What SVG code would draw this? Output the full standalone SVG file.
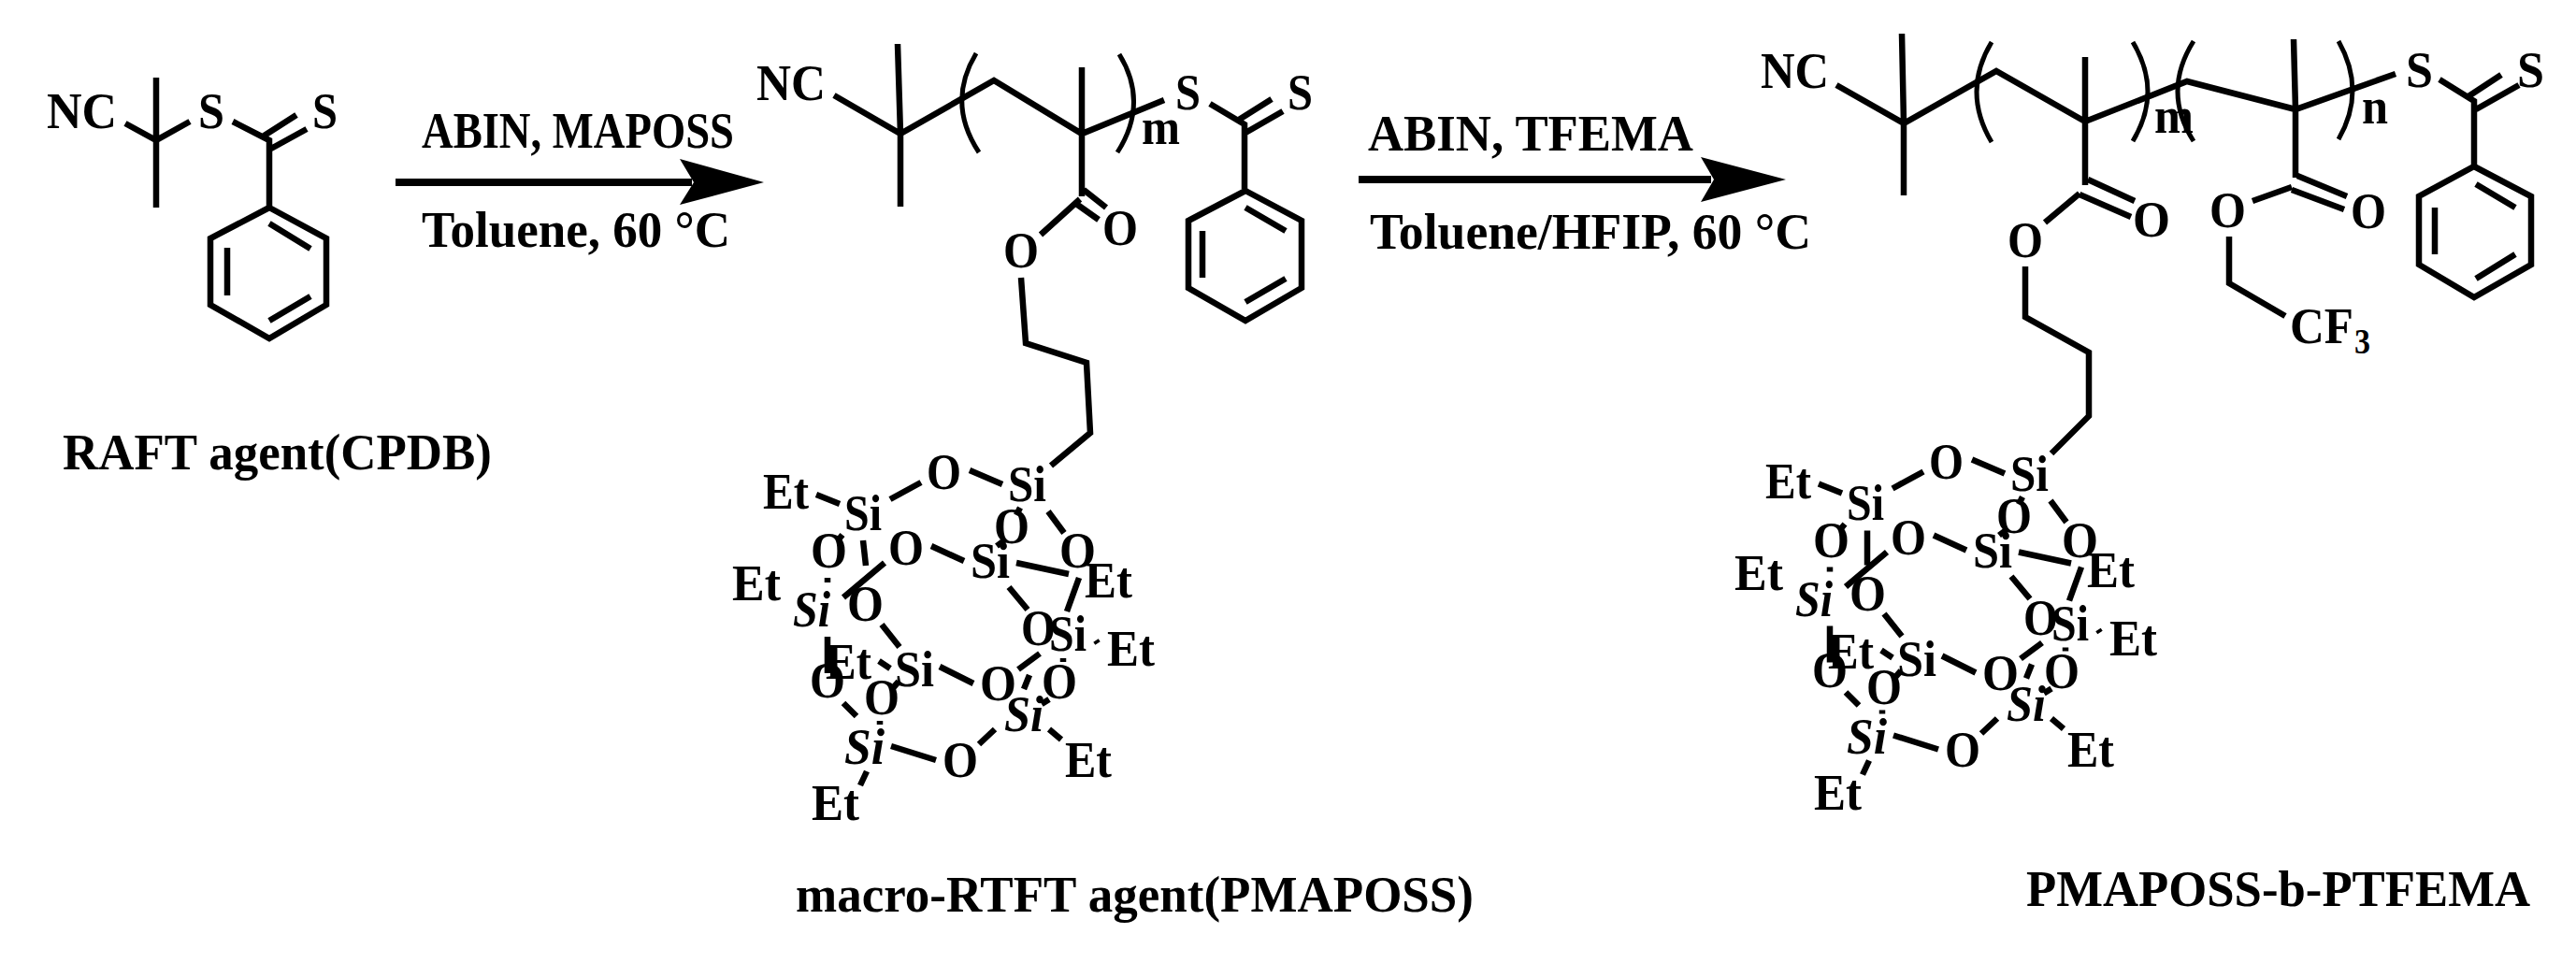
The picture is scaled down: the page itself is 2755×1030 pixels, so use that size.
<svg xmlns="http://www.w3.org/2000/svg" width="2755" height="1030" viewBox="0 0 2755 1030">
<style>
text{font-family:"Liberation Serif","Times New Roman",serif;font-weight:700;font-size:55px;fill:#000}
.i{font-style:italic}
.s{font-size:38px}
.b{fill:none;stroke:#000;stroke-width:6.5;stroke-linejoin:miter;stroke-linecap:butt}
.p{fill:none;stroke:#000;stroke-width:5}
.r{fill:none;stroke:#000;stroke-width:8}
.h{fill:#000;stroke:none}
</style>
<rect width="2755" height="1030" fill="#fff"/>
<g id="connectors">
<g id="bonds-raft">
<path class="b" d="M167 83V222M134 132L167 150L203 130M249 130L288 150V220M281 146L317 123M288 160L328 138"/>
<path class="b" d="M288 222L349 255V326L288 362L225 326V255ZM288 239L332 266M243 265V316M288 343L332 317"/>
</g>
<g id="bonds-macro">
<path class="b" d="M960 47L963 143V221M892 102L963 143L1063 86L1157 143L1245 107M1157 72V210M1159 203L1183 222M1151 218L1175 235M1155 213L1113 251"/>
<path class="p" d="M1044 57Q1012 110 1047 163M1197 58Q1229 110 1195 163"/>
<path class="b" d="M1294 111L1331 133V202M1325 128L1360 106M1332 142L1372 119"/>
<path class="b" d="M1332 204L1392 236V308L1332 343L1271 308V236ZM1332 222L1375 247M1286 247V297M1332 323L1375 298"/>
<path class="b" d="M1092 297L1097 367L1162 388L1166 463L1124 498"/>
</g>
<g id="bonds-poss1">
<path class="b" d="M873 529L898 539M952 534L985 516M1037 503L1072 518M1091 543L1087 551M1066 584L1074 578M1121 547L1138 570M901 572L896 578M923 578L926 605M946 602L902 639M996 584L1031 600M1087 602L1143 614M1154 618L1141 654M1079 628L1099 652M885 618V623M885 681V720M943 668L962 692M940 707L952 715M1005 713L1041 731M1089 716L1112 699M1101 722L1095 737M1137 704V708M1172 685L1174 688M1122 748L1114 753M1122 780L1135 791M1064 780L1047 796M953 798L1001 813M927 825L920 840M902 752L916 766M941 771V775M961 729L954 737"/>
</g>
<g id="bonds-block">
<path class="b" d="M2034 36L2036 132V209M1964 91L2036 132L2135 76L2230 130L2339 87L2455 117L2562 79M2230 61V198M2453 42L2455 117V190"/>
<path class="p" d="M2130 45Q2098 98 2130 152M2281 45Q2313 98 2281 151M2346 44Q2312 98 2346 151M2501 44Q2531 97 2501 149"/>
<path class="b" d="M2233 192L2283 215M2224 208L2279 232M2224 207L2187 238M2166 285V339L2234 377V445L2194 485"/>
<path class="b" d="M2457 188L2510 210M2451 203L2507 224M2451 200L2409 215M2384 253V303L2444 338"/>
<path class="b" d="M2609 85L2646 108V176M2640 103L2675 80M2648 117L2694 91"/>
<path class="b" d="M2646 178L2707 210V283L2646 318L2587 283V210ZM2648 197L2690 222M2604 222V272M2648 298L2690 272"/>
</g>
<g id="bonds-poss2" transform="translate(1072 -11.5)">
<path class="b" d="M873 529L898 539M952 534L985 516M1037 503L1072 518M1091 543L1087 551M1066 584L1074 578M1121 547L1138 570M901 572L896 578M925 579V616M946 602L902 639M996 584L1031 600M1087 602L1143 614M1154 618L1141 654M1079 628L1099 652M885 618V623M885 681V720M943 668L962 692M940 707L952 715M1005 713L1041 731M1089 716L1112 699M1101 722L1095 737M1137 704V708M1172 685L1174 688M1122 748L1114 753M1122 780L1135 791M1064 780L1047 796M953 798L1001 813M927 825L920 840M902 752L916 766M941 771V775M961 729L954 737"/>
</g>
<g id="arrow-1"><path class="r" d="M423 195H740"/><path class="h" d="M727 170L817 195L727 219L742 195Z"/></g>
<g id="arrow-2"><path class="r" d="M1453 192H1830"/><path class="h" d="M1819 168L1910 192L1819 216L1833 192Z"/></g>
</g>
<g id="node-raft">
<text x="50" y="137" textLength="75" lengthAdjust="spacingAndGlyphs">NC</text>
<text x="212" y="137" textLength="28" lengthAdjust="spacingAndGlyphs">S</text>
<text x="334" y="137" textLength="27" lengthAdjust="spacingAndGlyphs">S</text>
<text x="67" y="502" textLength="459" lengthAdjust="spacingAndGlyphs">RAFT agent(CPDB)</text>
</g>
<g id="node-cond-1">
<text x="451" y="158" textLength="334" lengthAdjust="spacingAndGlyphs">ABIN, MAPOSS</text>
<text x="451" y="264" textLength="330" lengthAdjust="spacingAndGlyphs">Toluene, 60 °C</text>
</g>
<g id="node-macro">
<text x="809" y="107" textLength="74" lengthAdjust="spacingAndGlyphs">NC</text>
<text x="1221" y="154" textLength="41" lengthAdjust="spacingAndGlyphs">m</text>
<text x="1257" y="117" textLength="27" lengthAdjust="spacingAndGlyphs">S</text>
<text x="1377" y="117" textLength="27" lengthAdjust="spacingAndGlyphs">S</text>
<text x="1179" y="262" textLength="38" lengthAdjust="spacingAndGlyphs">O</text>
<text x="1073" y="286" textLength="38" lengthAdjust="spacingAndGlyphs">O</text>
<text x="851" y="975" textLength="725" lengthAdjust="spacingAndGlyphs">macro-RTFT agent(PMAPOSS)</text>
</g>
<g id="node-poss1">
<text x="816" y="544" textLength="49" lengthAdjust="spacingAndGlyphs">Et</text>
<text x="903" y="567" textLength="40" lengthAdjust="spacingAndGlyphs">Si</text>
<text x="991" y="523" textLength="37" lengthAdjust="spacingAndGlyphs">O</text>
<text x="1078" y="536" textLength="41" lengthAdjust="spacingAndGlyphs">Si</text>
<text x="1063" y="581" textLength="38" lengthAdjust="spacingAndGlyphs">O</text>
<text x="1133" y="607" textLength="39" lengthAdjust="spacingAndGlyphs">O</text>
<text x="867" y="607" textLength="39" lengthAdjust="spacingAndGlyphs">O</text>
<text x="950" y="604" textLength="38" lengthAdjust="spacingAndGlyphs">O</text>
<text x="1038" y="618" textLength="42" lengthAdjust="spacingAndGlyphs">Si</text>
<text x="1160" y="639" textLength="51" lengthAdjust="spacingAndGlyphs">Et</text>
<text x="783" y="642" textLength="52" lengthAdjust="spacingAndGlyphs">Et</text>
<text class="i" x="848" y="670" textLength="40" lengthAdjust="spacingAndGlyphs">Si</text>
<text x="906" y="664" textLength="39" lengthAdjust="spacingAndGlyphs">O</text>
<text x="1092" y="690" textLength="37" lengthAdjust="spacingAndGlyphs">O</text>
<text x="1122" y="696" textLength="40" lengthAdjust="spacingAndGlyphs">Si</text>
<text x="1184" y="712" textLength="51" lengthAdjust="spacingAndGlyphs">Et</text>
<text x="883" y="726" textLength="49" lengthAdjust="spacingAndGlyphs">Et</text>
<text x="957" y="734" textLength="42" lengthAdjust="spacingAndGlyphs">Si</text>
<text x="866" y="746" textLength="38" lengthAdjust="spacingAndGlyphs">O</text>
<text x="924" y="764" textLength="38" lengthAdjust="spacingAndGlyphs">O</text>
<text x="1048" y="749" textLength="39" lengthAdjust="spacingAndGlyphs">O</text>
<text x="1114" y="747" textLength="38" lengthAdjust="spacingAndGlyphs">O</text>
<text class="i" x="1074" y="782" textLength="42" lengthAdjust="spacingAndGlyphs">Si</text>
<text class="i" x="903" y="817" textLength="43" lengthAdjust="spacingAndGlyphs">Si</text>
<text x="1008" y="831" textLength="38" lengthAdjust="spacingAndGlyphs">O</text>
<text x="1139" y="831" textLength="50" lengthAdjust="spacingAndGlyphs">Et</text>
<text x="868" y="877" textLength="51" lengthAdjust="spacingAndGlyphs">Et</text>
</g>
<g id="node-cond-2">
<text x="1463" y="161" textLength="348" lengthAdjust="spacingAndGlyphs">ABIN, TFEMA</text>
<text x="1465" y="266" textLength="472" lengthAdjust="spacingAndGlyphs">Toluene/HFIP, 60 °C</text>
</g>
<g id="node-block">
<text x="1883" y="94" textLength="73" lengthAdjust="spacingAndGlyphs">NC</text>
<text x="2304" y="142" textLength="42" lengthAdjust="spacingAndGlyphs">m</text>
<text x="2526" y="132" textLength="28" lengthAdjust="spacingAndGlyphs">n</text>
<text x="2573" y="93" textLength="29" lengthAdjust="spacingAndGlyphs">S</text>
<text x="2692" y="93" textLength="29" lengthAdjust="spacingAndGlyphs">S</text>
<text x="2281" y="253" textLength="40" lengthAdjust="spacingAndGlyphs">O</text>
<text x="2147" y="275" textLength="38" lengthAdjust="spacingAndGlyphs">O</text>
<text x="2514" y="244" textLength="38" lengthAdjust="spacingAndGlyphs">O</text>
<text x="2363" y="243" textLength="39" lengthAdjust="spacingAndGlyphs">O</text>
<text x="2449" y="367" textLength="68" lengthAdjust="spacingAndGlyphs">CF</text>
<text class="s" x="2518" y="378" textLength="17" lengthAdjust="spacingAndGlyphs">3</text>
<text x="2167" y="969" textLength="539" lengthAdjust="spacingAndGlyphs">PMAPOSS-b-PTFEMA</text>
</g>
<g id="node-poss2" transform="translate(1072 -11.5)">
<text x="816" y="544" textLength="49" lengthAdjust="spacingAndGlyphs">Et</text>
<text x="903" y="567" textLength="40" lengthAdjust="spacingAndGlyphs">Si</text>
<text x="991" y="523" textLength="37" lengthAdjust="spacingAndGlyphs">O</text>
<text x="1078" y="536" textLength="41" lengthAdjust="spacingAndGlyphs">Si</text>
<text x="1063" y="581" textLength="38" lengthAdjust="spacingAndGlyphs">O</text>
<text x="1133" y="607" textLength="39" lengthAdjust="spacingAndGlyphs">O</text>
<text x="867" y="607" textLength="39" lengthAdjust="spacingAndGlyphs">O</text>
<text x="950" y="604" textLength="38" lengthAdjust="spacingAndGlyphs">O</text>
<text x="1038" y="618" textLength="42" lengthAdjust="spacingAndGlyphs">Si</text>
<text x="1160" y="639" textLength="51" lengthAdjust="spacingAndGlyphs">Et</text>
<text x="783" y="642" textLength="52" lengthAdjust="spacingAndGlyphs">Et</text>
<text class="i" x="848" y="670" textLength="40" lengthAdjust="spacingAndGlyphs">Si</text>
<text x="906" y="664" textLength="39" lengthAdjust="spacingAndGlyphs">O</text>
<text x="1092" y="690" textLength="37" lengthAdjust="spacingAndGlyphs">O</text>
<text x="1122" y="696" textLength="40" lengthAdjust="spacingAndGlyphs">Si</text>
<text x="1184" y="712" textLength="51" lengthAdjust="spacingAndGlyphs">Et</text>
<text x="883" y="726" textLength="49" lengthAdjust="spacingAndGlyphs">Et</text>
<text x="957" y="734" textLength="42" lengthAdjust="spacingAndGlyphs">Si</text>
<text x="866" y="746" textLength="38" lengthAdjust="spacingAndGlyphs">O</text>
<text x="924" y="764" textLength="38" lengthAdjust="spacingAndGlyphs">O</text>
<text x="1048" y="749" textLength="39" lengthAdjust="spacingAndGlyphs">O</text>
<text x="1114" y="747" textLength="38" lengthAdjust="spacingAndGlyphs">O</text>
<text class="i" x="1074" y="782" textLength="42" lengthAdjust="spacingAndGlyphs">Si</text>
<text class="i" x="903" y="817" textLength="43" lengthAdjust="spacingAndGlyphs">Si</text>
<text x="1008" y="831" textLength="38" lengthAdjust="spacingAndGlyphs">O</text>
<text x="1139" y="831" textLength="50" lengthAdjust="spacingAndGlyphs">Et</text>
<text x="868" y="877" textLength="51" lengthAdjust="spacingAndGlyphs">Et</text>
</g>
</svg>
